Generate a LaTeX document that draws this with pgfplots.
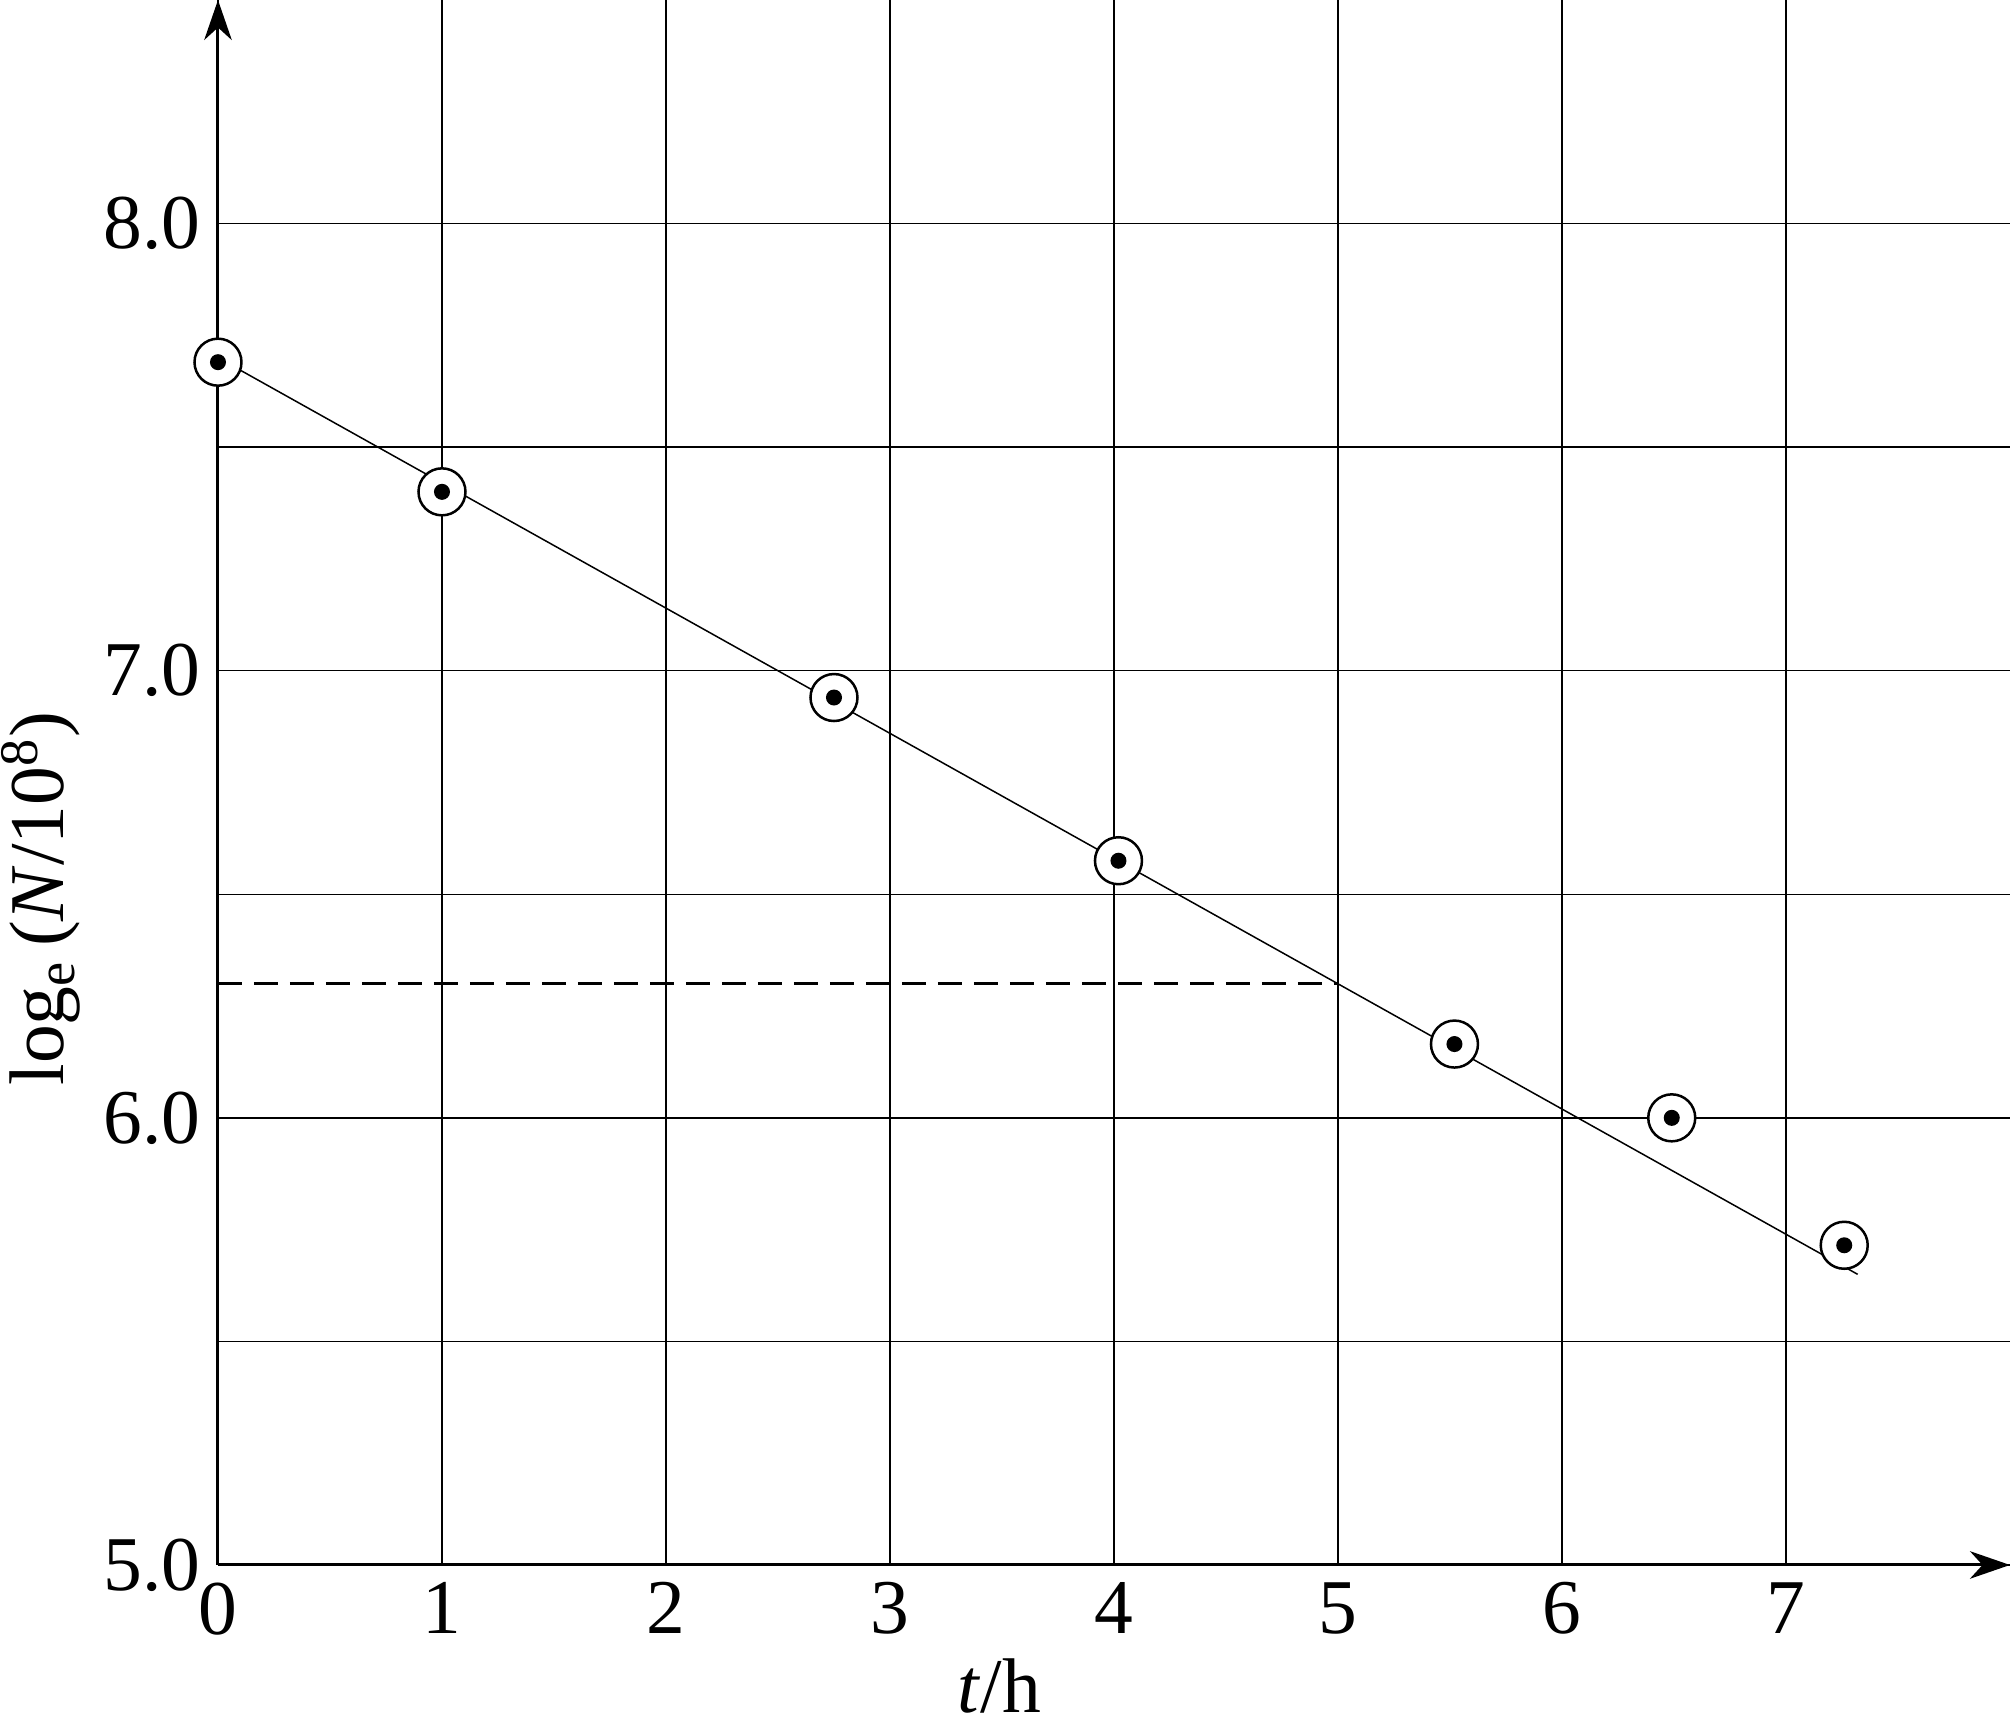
\documentclass[border=0pt]{standalone}
\usepackage{fontspec}
\setmainfont{Liberation Serif}
\usepackage{pgfplots}
\pgfplotsset{compat=1.18}
\usetikzlibrary{arrows.meta}

\begin{document}
\begin{tikzpicture}
\begin{axis}[
  name=ax,
  scale only axis, width=358.4pt, height=313pt,
  xmin=0, xmax=8, ymin=5, ymax=8.5,
  axis lines=left,
  axis line style={line width=0.6pt, -{Stealth[length=8pt,width=5.5pt,inset=2.5pt]}},
  xtick={0,...,7}, ytick={5,6,7,8}, minor ytick={5.5,6.5,7.5},
  grid=both,
  grid style={line width=0.3pt, black},
  minor grid style={line width=0.3pt, black},
  major tick length=0pt, minor tick length=0pt,
  tick label style={font=\fontsize{15.5}{18}\selectfont},
  /pgf/number format/assume math mode=true,
  yticklabel style={/pgf/number format/.cd, fixed, fixed zerofill, precision=1},
  label style={font=\fontsize{15.5}{18}\selectfont},
  xlabel={\textit{t}/h},
  xlabel style={at={([yshift=-29.5pt]axis description cs:0.436,0)}, anchor=base},
  ylabel={log\textsubscript{e}\,(\textit{N}/10\textsuperscript{8})},
  ylabel style={at={([xshift=-35.4pt]axis description cs:0,0.426)}, anchor=center},
  clip=false,
]
% fitted line
\addplot[line width=0.3pt, black] coordinates {(0,7.70) (7.32,5.65)};
% reading at t = 5 h
\addplot[line width=0.5pt, black, dash pattern=on 4.8pt off 2.4pt] coordinates {(0,6.30) (5,6.30)};
% measured points: open ring with a dot
\addplot[only marks, mark=*, mark size=4.7pt,
  mark options={fill=white, draw=black, line width=0.5pt}] coordinates {
  (0,7.69) (1.00,7.40) (2.75,6.94) (4.02,6.575) (5.52,6.165) (6.49,6.00) (7.26,5.715)
};
\addplot[only marks, mark=*, mark size=1.4pt, black] coordinates {
  (0,7.69) (1.00,7.40) (2.75,6.94) (4.02,6.575) (5.52,6.165) (6.49,6.00) (7.26,5.715)
};
\end{axis}
\pgfresetboundingbox
\path[use as bounding box] ([shift={(-43.6pt,-31.6pt)}]ax.south west) rectangle ([shift={(358.4pt,313pt)}]ax.south west);
\end{tikzpicture}
\end{document}
